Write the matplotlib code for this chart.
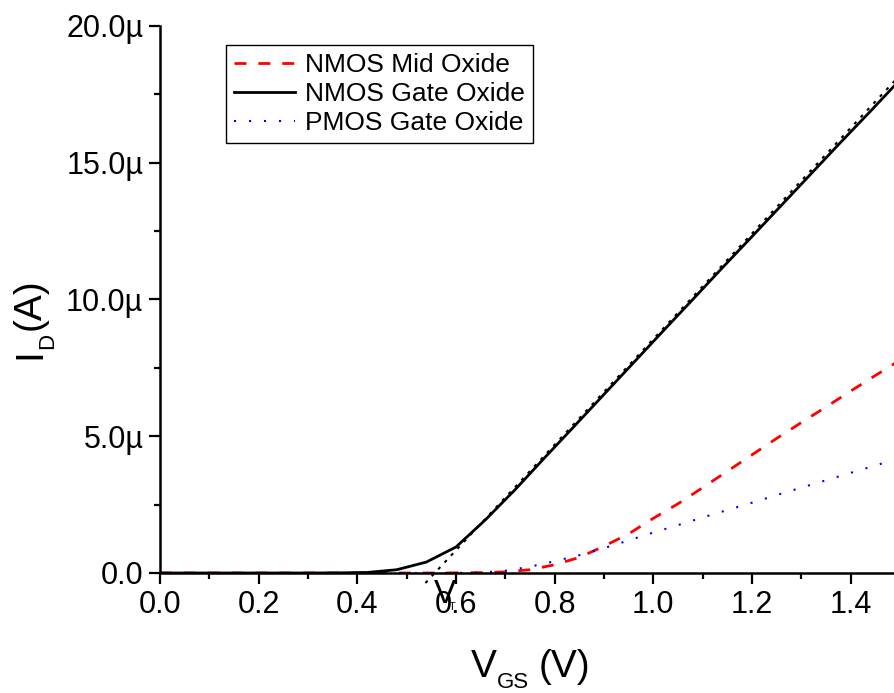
import matplotlib
matplotlib.use("Agg")
import matplotlib.pyplot as plt
from matplotlib.ticker import MultipleLocator, FuncFormatter

plt.rcParams['font.family'] = ['Liberation Sans', 'DejaVu Sans']

W, H = 895, 693

# NMOS gate oxide (solid), sampled every 0.06 V, current in uA
vgs_gate = [0.0, 0.06, 0.12, 0.18, 0.24, 0.30, 0.36, 0.42, 0.48, 0.54, 0.60,
            0.66, 0.72, 0.78, 0.84, 0.90, 0.96, 1.02, 1.08, 1.14, 1.20,
            1.26, 1.32, 1.38, 1.44, 1.50]
id_nmos_gate = [0.0, 0.0, 0.0, 0.0, 0.0, 0.0, 0.005, 0.02, 0.12, 0.40, 0.95,
                1.95, 3.05, 4.22, 5.37, 6.53, 7.69, 8.85, 10.00, 11.16, 12.30,
                13.45, 14.60, 15.75, 16.88, 18.03]

# NMOS mid oxide and PMOS gate oxide, sampled every 0.05 V
vgs = [0.0, 0.05, 0.10, 0.15, 0.20, 0.25, 0.30, 0.35, 0.40, 0.45, 0.50,
       0.55, 0.60, 0.65, 0.70, 0.75, 0.80, 0.85, 0.90, 0.95, 1.00,
       1.05, 1.10, 1.15, 1.20, 1.25, 1.30, 1.35, 1.40, 1.45, 1.50]
id_nmos_mid = [0.0, 0.0, 0.0, 0.0, 0.0, 0.0, 0.0, 0.0, 0.0, 0.0, 0.0,
               0.0, 0.005, 0.015, 0.04, 0.12, 0.30, 0.57, 0.98, 1.43, 2.00,
               2.53, 3.12, 3.72, 4.32, 4.92, 5.50, 6.07, 6.65, 7.22, 7.78]
id_pmos_gate = [0.0, 0.0, 0.0, 0.0, 0.0, 0.0, 0.0, 0.0, 0.0, 0.0, 0.0,
                0.0, 0.003, 0.015, 0.08, 0.23, 0.43, 0.65, 0.91, 1.19, 1.48,
                1.75, 2.03, 2.30, 2.57, 2.85, 3.12, 3.39, 3.66, 3.93, 4.20]

# linear extrapolation for threshold voltage
vt = 0.557
slope = 19.3  # uA/V
fit_x = [0.538, 1.49]


def px(x, y):
    return x / W, (H - y) / H


fig = plt.figure(figsize=(W / 100, H / 100), dpi=100)
ax = fig.add_axes([160 / W, 120 / H, 735 / W, 547 / H])

ax.plot(vgs, [v * 1e-6 for v in id_nmos_mid], color='red', lw=2,
        dashes=(4.3, 4.3), label='NMOS Mid Oxide')
ax.plot(vgs_gate, [v * 1e-6 for v in id_nmos_gate], color='black', lw=2,
        label='NMOS Gate Oxide')
ax.plot(vgs, [v * 1e-6 for v in id_pmos_gate], color='blue', lw=1.5,
        dashes=(1, 6.2), label='PMOS Gate Oxide')
ax.plot(fit_x, [slope * (x - vt) * 1e-6 for x in fit_x], color='black',
        lw=1.5, dashes=(1.5, 3.0), clip_on=False)

ax.set_xlim(0, 1.49)
ax.set_ylim(0, 20e-6)
ax.spines['top'].set_visible(False)
ax.spines['right'].set_visible(False)
for s in ('left', 'bottom'):
    ax.spines[s].set_linewidth(1.8)

ax.xaxis.set_major_locator(MultipleLocator(0.2))
ax.xaxis.set_minor_locator(MultipleLocator(0.1))
ax.yaxis.set_major_locator(MultipleLocator(5e-6))
ax.yaxis.set_minor_locator(MultipleLocator(2.5e-6))
ax.xaxis.set_major_formatter(FuncFormatter(lambda v, p: f"{v:.1f}"))
ax.yaxis.set_major_formatter(
    FuncFormatter(lambda v, p: "0.0" if abs(v) < 1e-12 else f"{v * 1e6:.1f}\u00b5"))
ax.tick_params(which='major', direction='out', length=8, width=1.6,
               labelsize=22, pad=4)
ax.tick_params(which='minor', direction='out', length=4.5, width=1.6)

# x axis label: V_GS (V)
big = 28
sub = 16
fig.text(*px(471, 677), "V", fontsize=big, ha='left', va='baseline')
fig.text(*px(497, 688), "GS", fontsize=sub, ha='left', va='baseline')
fig.text(*px(539, 677), "(V)", fontsize=big, ha='left', va='baseline')

# y axis label: I_D (A)
rot = dict(rotation=90, rotation_mode='anchor', ha='left', va='baseline')
fig.text(*px(40, 359), "I", fontsize=big, **rot)
fig.text(*px(53, 349), "D", fontsize=sub, **rot)
fig.text(*px(40, 330), "(A)", fontsize=big, **rot)

# threshold voltage marker
fig.text(*px(434, 603), "V", fontsize=24, ha='left', va='baseline')
fig.text(*px(449, 610), "T", fontsize=8, ha='left', va='baseline')

leg = ax.legend(loc='upper left', bbox_to_anchor=px(226, 45),
                bbox_transform=fig.transFigure, fontsize=19, frameon=True,
                fancybox=False, framealpha=1, edgecolor='black',
                handlelength=2.3, handletextpad=0.4, labelspacing=0.2,
                borderpad=0.3, borderaxespad=0)
leg.get_frame().set_linewidth(1.0)

fig.savefig("out.png", dpi=100)
